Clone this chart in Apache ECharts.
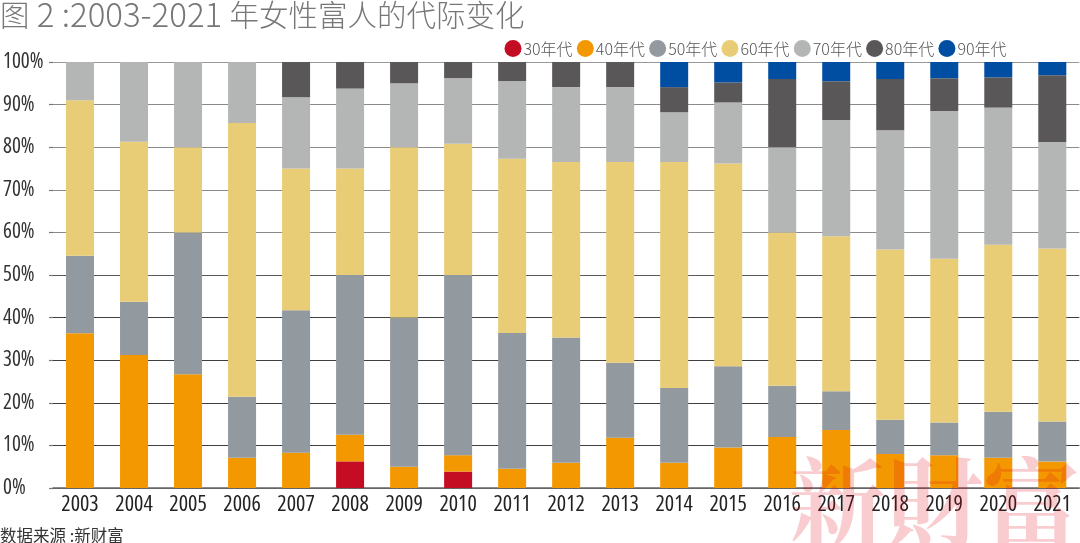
<!DOCTYPE html>
<html>
<head>
<meta charset="utf-8">
<style>
html, body { margin: 0; padding: 0; background: #fff; }
#chart { width: 1080px; height: 543px; }
</style>
<script src="https://cdn.jsdelivr.net/npm/echarts@6/dist/echarts.min.js"></script>
</head>
<body>
<div id="chart"></div>
<script>
const years = ['2003','2004','2005','2006','2007','2008','2009','2010','2011','2012','2013','2014','2015','2016','2017','2018','2019','2020','2021'];

// 各年代占比
const s30 = [null,null,null,null,null,6.25,null,3.85,null,null,null,null,null,null,null,null,null,null,null];
const s40 = [36.3,31.2,26.7,7.1,8.3,6.25,5,3.85,4.5,5.9,11.8,5.9,9.5,12,13.6,8,7.7,7.1,6.2];
const s50 = [18.2,12.5,33.3,14.3,33.4,37.5,35,42.3,31.9,29.4,17.6,17.6,19.1,12,9.1,8,7.7,10.8,9.4];
const s60 = [36.5,37.6,20,64.3,33.3,25,40,30.8,40.9,41.2,47.1,53,47.6,36,36.4,40,38.4,39.2,40.6];
const s70 = [9,18.7,20,14.3,16.7,18.75,15,15.4,18.2,17.6,17.6,11.7,14.3,20,27.3,28,34.7,32.2,25];
const s80 = [null,null,null,null,8.3,6.25,5,3.8,4.5,5.9,5.9,5.9,4.7,16,9.1,12,7.7,7.1,15.7];
const s90 = [null,null,null,null,null,null,null,null,null,null,null,5.9,4.8,4,4.5,4,3.8,3.6,3.1];

const names = ['30年代','40年代','50年代','60年代','70年代','80年代','90年代'];
const values = [s30, s40, s50, s60, s70, s80, s90];
const colors = ['#c40d22','#f39800','#92999f','#e9cd76','#b4b6b5','#595757','#004ea2'];

const cjk = '"Noto Sans CJK SC", "Noto Sans", sans-serif';
const narrow = '"Open Sans", sans-serif';

const chart = echarts.init(document.getElementById('chart'), null, { renderer: 'canvas' });
chart.setOption({
    animation: false,
    backgroundColor: '#fff',
    color: colors,
    title: [
        {
            text: '{a|图}{b| 2 :2003-2021 }{a|年女性富人的代际变化}',
            left: 0, top: -2, padding: 0,
            textStyle: {
                rich: {
                    a: { fontFamily: cjk, fontSize: 29.5, fontWeight: 300, color: '#777' },
                    b: { fontFamily: cjk, fontSize: 33, fontWeight: 300, color: '#777' }
                }
            }
        },
        {
            text: '数据来源 :新财富',
            left: 0, top: 527, padding: 0,
            textStyle: { fontFamily: cjk, fontSize: 16.5, fontWeight: 400, color: '#333' }
        }
    ],
    legend: {
        data: names,
        left: 504.5, top: 40, padding: 0,
        icon: 'circle',
        itemWidth: 17, itemHeight: 17,
        itemGap: 4.2,
        textStyle: { fontFamily: cjk, fontSize: 16, fontWeight: 300, color: '#555', padding: [0, 0, 0, -3] }
    },
    grid: { left: 50, right: 0.7, top: 62, bottom: 55 },
    xAxis: {
        type: 'category',
        data: years,
        axisTick: { show: false },
        axisLine: { lineStyle: { color: '#666', width: 1.5 } },
        axisLabel: { interval: 0, fontFamily: narrow, fontWeight: 'condensed', fontSize: 22, color: '#222', margin: 6 }
    },
    yAxis: {
        type: 'value',
        min: 0, max: 100, interval: 10,
        axisLine: { show: false },
        axisTick: { show: true, length: 4, lineStyle: { color: '#777', width: 1.2 } },
        axisLabel: { formatter: '{value}%', align: 'left', margin: 50, padding: [3, 0, 0, 0], fontFamily: narrow, fontWeight: 'condensed', fontSize: 21, color: '#333' },
        splitLine: {
            lineStyle: {
                width: 1.2,
                color: ['#666','#3f3f3f','#3f3f3f','#3f3f3f','#3f3f3f','#5a5a5a','#8a8a8a','#8a8a8a','#8a8a8a','#8a8a8a','#999']
            }
        }
    },
    series: names.map((n, i) => ({
        name: n,
        type: 'bar',
        stack: 'total',
        barWidth: 28,
        data: values[i]
    })),
    graphic: [{
        type: 'text',
        left: 789, top: 454, z: 100, silent: true,
        style: {
            text: '新財富',
            fontFamily: '"Noto Serif CJK TC", "Noto Sans CJK TC", serif',
            fontWeight: 700,
            fontSize: 97,
            fill: 'rgba(225,5,20,0.2)'
        }
    }]
});
</script>
</body>
</html>
